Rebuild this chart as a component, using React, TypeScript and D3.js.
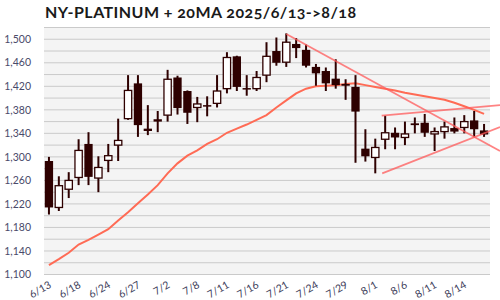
import React from "react";
import * as d3 from "d3";

const dates = ["6/13","6/16","6/17","6/18","6/20","6/23","6/24","6/25","6/26","6/27","6/30","7/1","7/2","7/3","7/7","7/8","7/9","7/10","7/11","7/14","7/15","7/16","7/17","7/18","7/21","7/22","7/23","7/24","7/25","7/28","7/29","7/30","7/31","8/1","8/4","8/5","8/6","8/7","8/8","8/11","8/12","8/13","8/14","8/15","8/18"];
const opens = [1293,1214,1245,1265,1322,1264,1294,1320,1365,1425,1348,1364,1371,1435,1412,1384,1388,1391,1416,1471,1417,1416,1439,1480,1461,1492,1482,1453,1446,1433,1424,1419,1314,1299,1330,1341,1333,1357,1358,1339,1343,1349,1350,1362,1345];
const highs = [1300,1267,1274,1330,1342,1301,1322,1365,1439,1439,1388,1378,1448,1438,1413,1402,1403,1439,1478,1472,1439,1446,1495,1503,1510,1502,1491,1458,1452,1466,1432,1439,1347,1331,1370,1350,1360,1367,1373,1350,1360,1367,1371,1378,1356];
const lows = [1202,1208,1230,1252,1252,1240,1274,1293,1363,1334,1337,1342,1360,1372,1356,1359,1369,1384,1408,1412,1404,1412,1427,1455,1453,1468,1452,1421,1412,1416,1397,1290,1292,1272,1313,1313,1320,1340,1334,1310,1331,1340,1340,1334,1334];
const closes = [1214,1251,1260,1311,1266,1282,1302,1328,1413,1354,1344,1360,1432,1383,1375,1390,1386,1412,1469,1419,1415,1435,1471,1460,1495,1485,1455,1442,1425,1422,1421,1377,1301,1316,1341,1333,1339,1354,1341,1343,1351,1343,1360,1347,1338];
const ma20 = [1116,1126,1137,1151,1159,1168,1177,1192,1206,1221,1236,1252,1272,1289,1302,1311,1322,1330,1341,1348,1355,1363,1371,1384,1396,1408,1416,1420,1421,1422,1424,1425,1422,1419,1416,1413,1409,1406,1403,1400,1397,1392,1386,1380,1373];

// trend lines: [index, value] anchor pairs, extended to the right edge
const trendDown = [[24, 1509], [44, 1325]];
const trendUpper = [[33.65, 1370], [44, 1385.6]];
const trendLower = [[33.7, 1272], [44, 1340]];

const yTicks = [1100, 1140, 1180, 1220, 1260, 1300, 1340, 1380, 1420, 1460, 1500];
const gridValues = d3.range(1100, 1521, 20);
const labelEvery = 3;

const W = 500, H = 300;
const L = 44, R = 490, T = 27.5, B = 274.5;
const FONT = "Lato, 'Open Sans', sans-serif";

export default function App() {
  const idx = dates.map((_, i) => i);
  const x = d3.scaleBand<number>().domain(idx).range([L, R - 1]).paddingInner(0);
  const bw = x.bandwidth();
  const cx = (i: number) => (x(i) as number) + bw / 2;
  const xc = d3.scaleLinear().domain([0, dates.length - 1]).range([cx(0), cx(dates.length - 1)]);
  const y = d3.scaleLinear().domain([1100, 1520]).range([B, T]);
  const bodyW = 8.3;

  const maLine = d3.line<number>().x((_, i) => cx(i)).y((d) => y(d))(ma20) || "";

  const extend = (pts: number[][]) => {
    const [a, b] = pts;
    const x1 = xc(a[0]), y1 = y(a[1]);
    const x2 = xc(b[0]), y2 = y(b[1]);
    const s = (y2 - y1) / (x2 - x1);
    const xe = W;
    return { x1, y1, x2: xe, y2: y1 + s * (xe - x1) };
  };
  const trends = [trendDown, trendUpper, trendLower].map(extend);

  const dark = "#2e0000";

  return (
    <div style={{ position: "absolute", left: 0, top: 0 }}>
      <svg width={W} height={H} style={{ display: "block", background: "#fff" }}>
        <text x={45} y={17.5} fontFamily={FONT} fontWeight={700} fontSize={16} letterSpacing={0.45} fill="#1a1a1a" style={{ fontVariantNumeric: "oldstyle-nums" }}>
          NY-PLATINUM + 20MA 2025/6/13-&gt;8/18
        </text>
        <rect x={L} y={T} width={R - L} height={B - T} fill="#f4f4f4" />
        {gridValues.map((v) => (
          <line key={v} x1={L} x2={R} y1={y(v)} y2={y(v)} stroke="#cacaca" strokeWidth={1} />
        ))}
        {yTicks.map((v) => (
          <text key={v} x={31} y={y(v)} dy="0.35em" textAnchor="end" fontFamily={FONT} fontSize={10.5} fill="#4a4a6a">
            {d3.format(",")(v)}
          </text>
        ))}
        {dates.map((d, i) =>
          i % labelEvery === 0 ? (
            <text key={d} transform={`translate(${cx(i) + 3},${287}) rotate(-30)`} textAnchor="end" fontFamily={FONT} fontSize={10.5} fill="#40405a">
              {d}
            </text>
          ) : null
        )}
        <path d={maLine} fill="none" stroke="#ff6b55" strokeWidth={2} />
        {idx.map((i) => {
          const up = closes[i] >= opens[i];
          const top = y(Math.max(opens[i], closes[i]));
          const bot = y(Math.min(opens[i], closes[i]));
          return (
            <g key={i}>
              <line x1={cx(i)} x2={cx(i)} y1={y(highs[i])} y2={y(lows[i])} stroke={dark} strokeWidth={2} />
              <rect
                x={cx(i) - bodyW / 2 + (up ? 0.5 : 0)}
                y={top}
                width={bodyW - (up ? 1 : 0)}
                height={Math.max(bot - top, 1.5)}
                fill={up ? "#ffffff" : dark}
                stroke={dark}
                strokeWidth={up ? 1.3 : 0}
              />
            </g>
          );
        })}
        {trends.map((t, k) => (
          <line key={k} x1={t.x1} y1={t.y1} x2={t.x2} y2={t.y2} stroke="#ff5a5a" strokeOpacity={0.75} strokeWidth={1.8} />
        ))}
      </svg>
    </div>
  );
}
